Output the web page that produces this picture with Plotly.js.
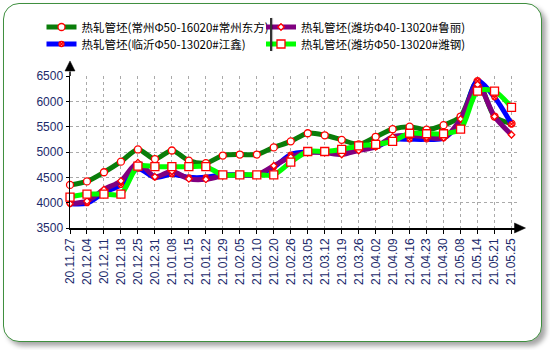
<!DOCTYPE html>
<html>
<head>
<meta charset="utf-8">
<script src="https://cdn.plot.ly/plotly-3.0.1.min.js"></script>
<style>
html,body{margin:0;padding:0;background:#fff;}
#wrap{position:relative;width:550px;height:350px;overflow:hidden;background:#fff;}
#frame{position:absolute;left:3px;top:3px;width:537px;height:337px;border:1.6px solid #3f8f3f;border-radius:16px;box-shadow:4px 4px 5px rgba(0,0,0,0.35);background:#fff;}
#chart{position:absolute;left:0;top:0;width:550px;height:350px;}
#sep{position:absolute;left:270px;top:18px;width:1.5px;height:33px;background:#333;box-shadow:1px 0 1px rgba(0,0,0,0.3);}
</style>
</head>
<body>
<div id="wrap">
<div id="frame"></div>
<div id="chart"></div>
<div id="sep"></div>
</div>
<script>
const categories = ["20.11.27","20.12.04","20.12.11","20.12.18","20.12.25","20.12.31","21.01.08","21.01.15","21.01.22","21.01.29","21.02.05","21.02.10","21.02.20","21.02.26","21.03.05","21.03.12","21.03.19","21.03.26","21.04.02","21.04.09","21.04.16","21.04.23","21.04.30","21.05.08","21.05.14","21.05.21","21.05.25"];

const nameChangzhou = "热轧管坯(常州Φ50-16020#常州东方)";
const nameLuli = "热轧管坯(潍坊Φ40-13020#鲁丽)";
const nameJiangxin = "热轧管坯(临沂Φ50-13020#江鑫)";
const nameWeigang = "热轧管坯(潍坊Φ50-13020#潍钢)";

const changzhou = [4350,4420,4600,4810,5050,4860,5030,4830,4780,4930,4950,4950,5090,5210,5370,5330,5240,5150,5300,5450,5500,5440,5530,5700,6400,5700,5560];
const jiangxin  = [3980,3990,4200,4350,4670,4500,4560,4500,4500,4550,4550,4550,4700,4950,5000,5000,5000,5080,5100,5250,5250,5250,5270,5600,6400,6080,5550];
const luli      = [3980,4030,4260,4430,4790,4510,4620,4470,4460,4530,4550,4550,4730,4900,4990,4990,4950,5030,5100,5300,5330,5290,5280,5650,6330,5700,5340];
const weigang   = [4110,4170,4170,4170,4720,4710,4710,4710,4710,4550,4550,4550,4550,4800,5010,5010,5050,5120,5150,5210,5370,5360,5360,5450,6200,6200,5880];

const xs = categories.map((c,i)=>i);

function tr(name, y, color, sym, msize, lg){
  return {
    type:'scatter', mode:'lines+markers', name:name, x:xs, y:y,
    line:{color:color, width:5, shape:'spline', smoothing:0.8},
    marker:{symbol:sym, size:msize, color:'#ffffff', line:{color:'#ff0000', width:1.3}},
    legend:lg, cliponaxis:false
  };
}

const data = [
  tr(nameChangzhou, changzhou, '#0a7d0a', 'circle', 7, 'legend'),
  tr(nameJiangxin, jiangxin, '#0000ff', 'circle-x', 5, 'legend3'),
  tr(nameLuli, luli, '#800080', 'diamond', 5, 'legend2'),
  tr(nameWeigang, weigang, '#00ff00', 'square', 8, 'legend4')
];

const tickFont = {family:'"Liberation Sans", Arial, sans-serif', size:12, color:'#1c2a6b'};
const legFont = {family:'"Noto Sans CJK SC", sans-serif', size:11.5, color:'#000'};
function leg(x, y){
  return {xref:'container', yref:'container', x:x, y:y, xanchor:'left', yanchor:'middle',
    itemwidth:30, font:legFont, bgcolor:'rgba(0,0,0,0)', borderwidth:0};
}

const layout = {
  width:550, height:350,
  margin:{l:70, r:29.5, t:76, b:122, pad:0, autoexpand:false},
  paper_bgcolor:'rgba(0,0,0,0)', plot_bgcolor:'rgba(0,0,0,0)',
  showlegend:true,
  legend: leg(41.5/550, 1-27/350),
  legend3: leg(41.5/550, 1-44/350),
  legend2: leg(261/550, 1-27/350),
  legend4: leg(261/550, 1-44/350),
  xaxis:{type:'linear', range:[0,26.5], tickmode:'array', tickvals:xs, ticktext:categories,
    tickangle:-90, tickfont:tickFont, ticks:'outside', ticklen:4, tickcolor:'#000',
    showline:true, linecolor:'#000', linewidth:1.5, showgrid:true, gridcolor:'#aaaaaa', griddash:'dot', gridwidth:1,
    zeroline:false, fixedrange:true},
  yaxis:{range:[3500,6500], dtick:500, tick0:3500, tickfont:tickFont, ticks:'outside', ticklen:3, tickcolor:'#000',
    showline:true, linecolor:'#000', linewidth:1.5, showgrid:true, gridcolor:'#aaaaaa', griddash:'dot', gridwidth:1,
    zeroline:false, fixedrange:true},
  shapes:[
    {type:'line', xref:'paper', yref:'paper', x0:0, x1:0, y0:1, y1:1.03, line:{color:'#000', width:1.5}},
    {type:'path', xref:'paper', yref:'paper', path:'M -0.0111,1.033 L 0.0111,1.033 L 0,1.099 Z', fillcolor:'#000', line:{color:'#000', width:0.5}},
    {type:'path', xref:'paper', yref:'paper', path:'M 0.9878,0.033 L 0.9878,-0.033 L 1.0122,0 Z', fillcolor:'#000', line:{color:'#000', width:0.5}}
  ]
};

Plotly.newPlot('chart', data, layout, {displayModeBar:false, staticPlot:true});
</script>
</body>
</html>
